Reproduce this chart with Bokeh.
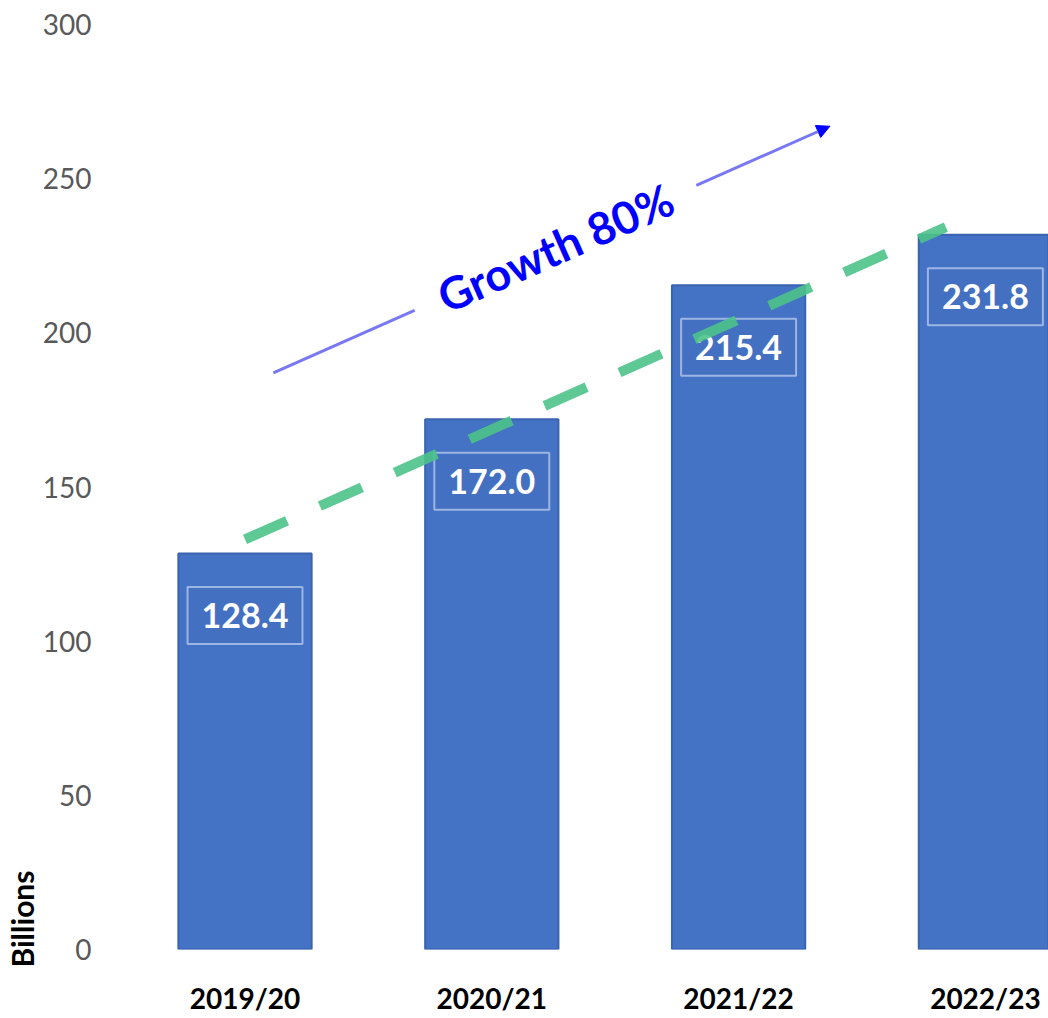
import math
from bokeh.plotting import figure
from bokeh.models import Range1d, FixedTicker, Label, Arrow, NormalHead, Title
from bokeh.embed import file_html
from bokeh.resources import INLINE

# ---- data ----
categories = ["2019/20", "2020/21", "2021/22", "2022/23"]
values = [128.4, 172.0, 215.4, 231.8]
value_labels = ["128.4", "172.0", "215.4", "231.8"]
y_ticks = [0, 50, 100, 150, 200, 250, 300]
# trend line endpoints (x in category index, y in billions)
trend_x = [0.0, 2.84]
trend_y = [133.0, 234.3]
# growth arrow endpoints
arrow_x = [0.115, 2.37]
arrow_y = [187.0, 267.0]
growth_text = "Growth 80%"
y_axis_title = "Billions"

FONT = "Lato"
idx = list(range(len(categories)))

p = figure(width=1048, height=1018,
           x_range=Range1d(-0.5855, 3.2557), y_range=Range1d(0, 300),
           output_backend="svg", toolbar_location=None,
           min_border_left=100, min_border_right=0,
           min_border_top=24, min_border_bottom=69)
p.outline_line_color = None
p.background_fill_color = "white"
p.border_fill_color = "white"
p.xgrid.grid_line_color = None
p.ygrid.grid_line_color = None

# bars
p.vbar(x=idx, top=values, bottom=0, width=0.54,
       fill_color="#4472C4", line_color="#3A63B0", line_width=2)

# dashed trend line
tl = p.line(trend_x, trend_y, line_color="#4CC38A", line_width=10,
            line_dash="46 36", line_cap="butt", line_alpha=0.9)
tl.level = "overlay"

# axes
yax = p.yaxis[0]
yax.ticker = FixedTicker(ticks=y_ticks)
yax.axis_line_color = None
yax.major_tick_line_color = None
yax.minor_tick_line_color = None
yax.major_tick_out = 0
yax.major_label_standoff = 9
yax.major_label_text_font = FONT
yax.major_label_text_font_size = "28px"
yax.major_label_text_color = "#595959"

xax = p.xaxis[0]
xax.ticker = FixedTicker(ticks=idx)
xax.major_label_overrides = {i: c for i, c in zip(idx, categories)}
xax.axis_line_color = None
xax.major_tick_line_color = None
xax.minor_tick_line_color = None
xax.major_tick_out = 0
xax.major_label_standoff = 31
xax.major_label_text_font = FONT
xax.major_label_text_font_size = "28px"
xax.major_label_text_font_style = "bold"
xax.major_label_text_color = "black"

# value labels in boxes
for i, v, t in zip(idx, values, value_labels):
    p.add_layout(Label(x=i, y=v, y_offset=-62, text=t,
                       text_align="center", text_baseline="middle",
                       text_font=FONT, text_font_size="34px",
                       text_font_style="bold", text_color="white",
                       background_fill_color="#4470C2",
                       border_line_color="#9DB5E3", border_line_width=2,
                       padding=dict(left=14, right=14, top=16, bottom=16)))

# growth arrow
p.add_layout(Arrow(x_start=arrow_x[0], y_start=arrow_y[0],
                   x_end=arrow_x[1], y_end=arrow_y[1],
                   line_color="#7878F4", line_width=3,
                   end=NormalHead(size=13, fill_color="#0000FF",
                                  line_color="#0000FF")))
ang = math.atan2((arrow_y[1] - arrow_y[0]) * 3.08, (arrow_x[1] - arrow_x[0]) * 246.8)
p.add_layout(Label(x=1.258, y=227.6, text=growth_text, angle=ang,
                   text_align="center", text_baseline="middle",
                   text_font=FONT, text_font_size="45px",
                   text_font_style="bold", text_color="#0000FF",
                   background_fill_color="white",
                   padding=dict(left=28, right=28, top=4, bottom=4)))

# y-axis title near the bottom
p.add_layout(Title(text=y_axis_title, align="left", standoff=0, offset=-18,
                   text_font=FONT, text_font_size="30px",
                   text_font_style="bold", text_color="black"), "left")

open("out.html", "w").write(file_html(p, INLINE))
